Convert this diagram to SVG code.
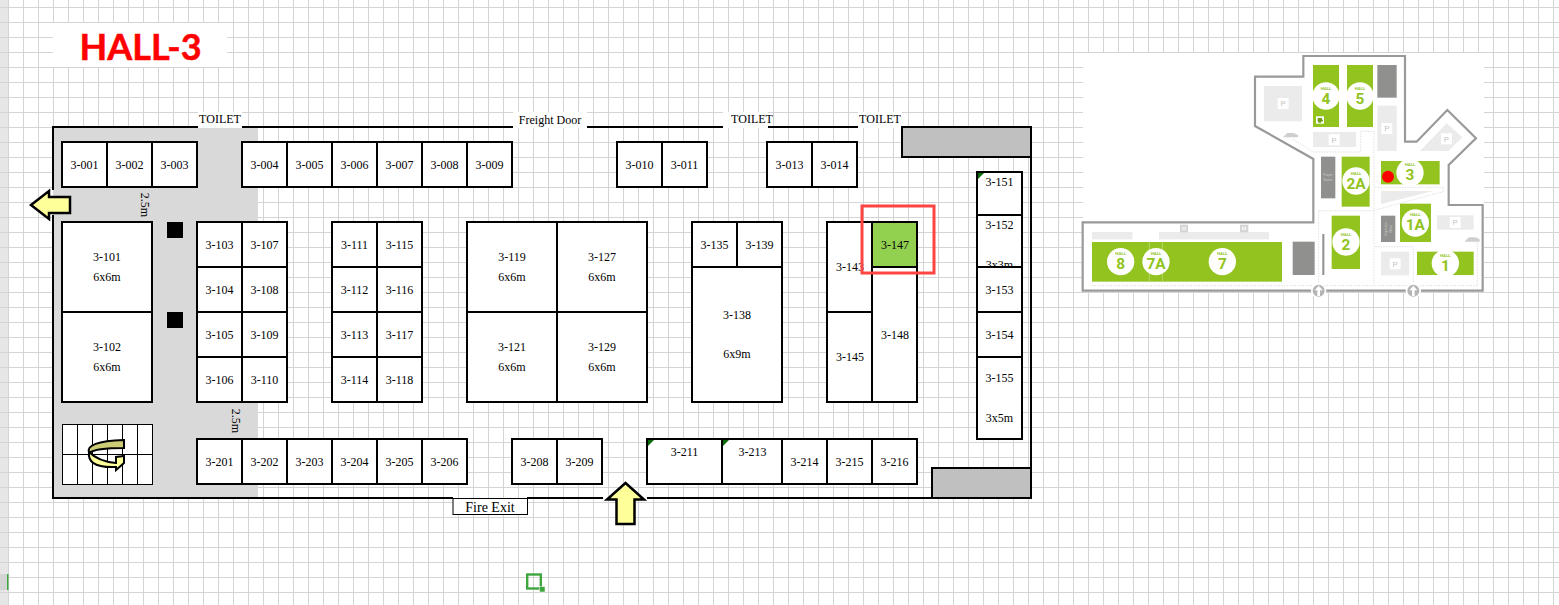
<svg xmlns="http://www.w3.org/2000/svg" width="1559" height="605" viewBox="0 0 1559 605">
<style>
text{font-family:"Liberation Serif","Times New Roman",serif;font-size:12px;fill:#000;text-anchor:middle}
.b{fill:#fff;stroke:#000;stroke-width:2}
.w{fill:none;stroke:#000;stroke-width:2}
.t{fill:#0a6b0a}
.m text{font-family:"Roboto","Liberation Sans",sans-serif;font-weight:700;fill:#92c31e}
.m .h{font-size:13px}
.m .n{font-size:46px}
.m .p{font-size:24px;fill:#c4c4c4;font-weight:400}
.m .o{font-size:10px;fill:#c9c9c9;font-weight:400}
.gn{fill:#92c31e}.dk{fill:#90918e}.lt{fill:#ebebeb}.wc{fill:#fff}
.ds{fill:none;stroke:#d6d6d6;stroke-width:2.5;stroke-dasharray:4 4}
</style>
<defs>
<pattern id="grid" patternUnits="userSpaceOnUse" x="8" y="7" width="15" height="15"><path d="M0 .5H15M.5 0V15" stroke="#d4d4d4" fill="none"/></pattern>
<pattern id="hdr" patternUnits="userSpaceOnUse" x="0" y="7" width="8" height="15"><path d="M0 .5H8" stroke="#d4d4d4" fill="none"/></pattern>
<clipPath id="c152"><rect x="977" y="215" width="45" height="52"/></clipPath>
</defs>
<rect width="1559" height="605" fill="#fff"/>
<rect width="1559" height="605" fill="url(#grid)"/>
<rect width="8" height="605" fill="#e6e6e6"/>
<rect width="8" height="605" fill="url(#hdr)"/>
<rect x="0" y="574" width="7" height="16" fill="#d4d4d4"/>
<rect x="7" y="574" width="1.5" height="16" fill="#3fa63f"/>
<rect x="527.200" y="574.500" width="13.600" height="14" fill="none" stroke="#3fa63f" stroke-width="2.400"/>
<rect x="539.500" y="586.500" width="5.500" height="5.500" fill="#3fa63f" stroke="#fff" stroke-width=".5"/>

<g id="title"><rect x="53" y="23" width="174" height="44" fill="#fff"/>
<text x="140.500" y="60" style="font-family:Lato,'Liberation Sans',sans-serif;font-size:36px;font-weight:700;fill:#f00" stroke="#f00" stroke-width=".5">HALL-3</text></g>

<g id="hall">
<rect x="53" y="127" width="205" height="371" fill="#d9d9d9"/>
<rect x="198" y="112" width="44" height="16" fill="#fff"/>
<rect x="513" y="112" width="74" height="16" fill="#fff"/>
<rect x="723" y="112" width="45" height="16" fill="#fff"/>
<rect x="858" y="112" width="44" height="16" fill="#fff"/>
<rect x="902" y="127" width="129" height="30" fill="#c0c0c0" stroke="#000" stroke-width="2"/>
<rect x="932" y="468" width="99" height="30" fill="#c0c0c0" stroke="#000" stroke-width="2"/>
<path class="w" d="M53 190V127H198M242 127H513M587 127H723M768 127H858M902 127H1031V498H647M603 498H527M453 498H53V215"/>
<text x="220" y="123">TOILET</text>
<text x="550" y="124">Freight Door</text>
<text x="752" y="123">TOILET</text>
<text x="880" y="123">TOILET</text>
<text transform="translate(141 205) rotate(90)">2.5m</text>
<text transform="translate(232 421) rotate(90)">2.5m</text>
<rect x="167" y="222" width="16" height="16" fill="#000"/>
<rect x="167" y="312" width="16" height="16" fill="#000"/>
</g>

<g id="fire-exit"><rect x="453" y="498.500" width="74.500" height="16" fill="#fff" stroke="#000"/><text x="490" y="512" style="font-size:14px">Fire Exit</text></g>
<g id="arrow-left"><path d="M31 205L49 191V197H70V213H49V219Z" fill="#ffff99" stroke="#000" stroke-width="2.500"/></g>
<g id="arrow-up"><path d="M625.500 483L644 499.500H634.500V524H616.500V499.500H607Z" fill="#ffff99" stroke="#000" stroke-width="2.500"/></g>
<g id="stairs">
<rect x="62.500" y="424.500" width="90" height="60" fill="#fff" stroke="#000"/>
<path d="M77.500 424V484M92.500 424V484M107.500 424V484M122.500 424V484M137.500 424V484M62 454.500H152" stroke="#000" fill="none"/>
<path d="M124 456L116 457V463C104 462 95 458 89 452C88 460 92 468 116 467V470L124 463Z" fill="#ffff99" stroke="#000" stroke-width="2"/>
<path d="M124 440V448C105 448 94 449 89 453C86 445 98 441 124 440Z" fill="#cccc77" stroke="#000" stroke-width="2"/>
</g>

<g id="b3-001"><rect class="b" x="62" y="142" width="45" height="45"/><text x="84.500" y="169">3-001</text></g>
<g id="b3-002"><rect class="b" x="107" y="142" width="45" height="45"/><text x="129.500" y="169">3-002</text></g>
<g id="b3-003"><rect class="b" x="152" y="142" width="45" height="45"/><text x="174.500" y="169">3-003</text></g>
<g id="b3-004"><rect class="b" x="242" y="142" width="45" height="45"/><text x="264.500" y="169">3-004</text></g>
<g id="b3-005"><rect class="b" x="287" y="142" width="45" height="45"/><text x="309.500" y="169">3-005</text></g>
<g id="b3-006"><rect class="b" x="332" y="142" width="45" height="45"/><text x="354.500" y="169">3-006</text></g>
<g id="b3-007"><rect class="b" x="377" y="142" width="45" height="45"/><text x="399.500" y="169">3-007</text></g>
<g id="b3-008"><rect class="b" x="422" y="142" width="45" height="45"/><text x="444.500" y="169">3-008</text></g>
<g id="b3-009"><rect class="b" x="467" y="142" width="45" height="45"/><text x="489.500" y="169">3-009</text></g>
<g id="b3-010"><rect class="b" x="617" y="142" width="45" height="45"/><text x="639.500" y="169">3-010</text></g>
<g id="b3-011"><rect class="b" x="662" y="142" width="45" height="45"/><text x="684.500" y="169">3-011</text></g>
<g id="b3-013"><rect class="b" x="767" y="142" width="45" height="45"/><text x="789.500" y="169">3-013</text></g>
<g id="b3-014"><rect class="b" x="812" y="142" width="45" height="45"/><text x="834.500" y="169">3-014</text></g>

<g id="b3-101"><rect class="b" x="62" y="222" width="90" height="90"/><text x="107" y="261">3-101</text><text x="107" y="281">6x6m</text></g>
<g id="b3-102"><rect class="b" x="62" y="312" width="90" height="90"/><text x="107" y="351">3-102</text><text x="107" y="371">6x6m</text></g>

<g id="b3-103"><rect class="b" x="197" y="222" width="45" height="45"/><text x="219.500" y="249">3-103</text></g>
<g id="b3-104"><rect class="b" x="197" y="267" width="45" height="45"/><text x="219.500" y="294">3-104</text></g>
<g id="b3-105"><rect class="b" x="197" y="312" width="45" height="45"/><text x="219.500" y="339">3-105</text></g>
<g id="b3-106"><rect class="b" x="197" y="357" width="45" height="45"/><text x="219.500" y="384">3-106</text></g>
<g id="b3-107"><rect class="b" x="242" y="222" width="45" height="45"/><text x="264.500" y="249">3-107</text></g>
<g id="b3-108"><rect class="b" x="242" y="267" width="45" height="45"/><text x="264.500" y="294">3-108</text></g>
<g id="b3-109"><rect class="b" x="242" y="312" width="45" height="45"/><text x="264.500" y="339">3-109</text></g>
<g id="b3-110"><rect class="b" x="242" y="357" width="45" height="45"/><text x="264.500" y="384">3-110</text></g>

<g id="b3-111"><rect class="b" x="332" y="222" width="45" height="45"/><text x="354.500" y="249">3-111</text></g>
<g id="b3-112"><rect class="b" x="332" y="267" width="45" height="45"/><text x="354.500" y="294">3-112</text></g>
<g id="b3-113"><rect class="b" x="332" y="312" width="45" height="45"/><text x="354.500" y="339">3-113</text></g>
<g id="b3-114"><rect class="b" x="332" y="357" width="45" height="45"/><text x="354.500" y="384">3-114</text></g>
<g id="b3-115"><rect class="b" x="377" y="222" width="45" height="45"/><text x="399.500" y="249">3-115</text></g>
<g id="b3-116"><rect class="b" x="377" y="267" width="45" height="45"/><text x="399.500" y="294">3-116</text></g>
<g id="b3-117"><rect class="b" x="377" y="312" width="45" height="45"/><text x="399.500" y="339">3-117</text></g>
<g id="b3-118"><rect class="b" x="377" y="357" width="45" height="45"/><text x="399.500" y="384">3-118</text></g>

<g id="b3-119"><rect class="b" x="467" y="222" width="90" height="90"/><text x="512" y="261">3-119</text><text x="512" y="281">6x6m</text></g>
<g id="b3-121"><rect class="b" x="467" y="312" width="90" height="90"/><text x="512" y="351">3-121</text><text x="512" y="371">6x6m</text></g>
<g id="b3-127"><rect class="b" x="557" y="222" width="90" height="90"/><text x="602" y="261">3-127</text><text x="602" y="281">6x6m</text></g>
<g id="b3-129"><rect class="b" x="557" y="312" width="90" height="90"/><text x="602" y="351">3-129</text><text x="602" y="371">6x6m</text></g>

<g id="b3-135"><rect class="b" x="692" y="222" width="45" height="45"/><text x="714.500" y="249">3-135</text></g>
<g id="b3-139"><rect class="b" x="737" y="222" width="45" height="45"/><text x="759.500" y="249">3-139</text></g>
<g id="b3-138"><rect class="b" x="692" y="267" width="90" height="135"/><text x="737" y="319">3-138</text><text x="737" y="358">6x9m</text></g>

<g id="b3-143"><rect class="b" x="827" y="222" width="45" height="90"/><text x="850" y="271">3-143</text></g>
<g id="b3-145"><rect class="b" x="827" y="312" width="45" height="90"/><text x="850" y="361">3-145</text></g>
<g id="b3-147"><rect x="872" y="222" width="45" height="45" fill="#92d050" stroke="#000" stroke-width="2"/><text x="895" y="249">3-147</text></g>
<g id="b3-148"><rect class="b" x="872" y="267" width="45" height="135"/><text x="895" y="339">3-148</text></g>

<g id="b3-151"><rect class="b" x="977" y="172" width="45" height="43"/><path class="t" d="M978 173h6l-6 6z"/><text x="999.500" y="186">3-151</text></g>
<g id="b3-152"><rect class="b" x="977" y="215" width="45" height="52"/><text x="999.500" y="229">3-152</text><text x="999.500" y="269" clip-path="url(#c152)">3x3m</text></g>
<g id="b3-153"><rect class="b" x="977" y="267" width="45" height="45"/><text x="999.500" y="294">3-153</text></g>
<g id="b3-154"><rect class="b" x="977" y="312" width="45" height="45"/><text x="999.500" y="339">3-154</text></g>
<g id="b3-155"><rect class="b" x="977" y="357" width="45" height="82"/><text x="999.500" y="382">3-155</text><text x="999.500" y="422">3x5m</text></g>

<g id="b3-201"><rect class="b" x="197" y="439" width="45" height="45"/><text x="219.500" y="466">3-201</text></g>
<g id="b3-202"><rect class="b" x="242" y="439" width="45" height="45"/><text x="264.500" y="466">3-202</text></g>
<g id="b3-203"><rect class="b" x="287" y="439" width="45" height="45"/><text x="309.500" y="466">3-203</text></g>
<g id="b3-204"><rect class="b" x="332" y="439" width="45" height="45"/><text x="354.500" y="466">3-204</text></g>
<g id="b3-205"><rect class="b" x="377" y="439" width="45" height="45"/><text x="399.500" y="466">3-205</text></g>
<g id="b3-206"><rect class="b" x="422" y="439" width="45" height="45"/><text x="444.500" y="466">3-206</text></g>
<g id="b3-208"><rect class="b" x="512" y="439" width="45" height="45"/><text x="534.500" y="466">3-208</text></g>
<g id="b3-209"><rect class="b" x="557" y="439" width="45" height="45"/><text x="579.500" y="466">3-209</text></g>
<g id="b3-211"><rect class="b" x="647" y="439" width="75" height="45"/><path class="t" d="M648 440h6l-6 6z"/><text x="684.500" y="456">3-211</text></g>
<g id="b3-213"><rect class="b" x="722" y="439" width="60" height="45"/><path class="t" d="M723 440h6l-6 6z"/><text x="752.500" y="456">3-213</text></g>
<g id="b3-214"><rect class="b" x="782" y="439" width="45" height="45"/><text x="804.500" y="466">3-214</text></g>
<g id="b3-215"><rect class="b" x="827" y="439" width="45" height="45"/><text x="849.500" y="466">3-215</text></g>
<g id="b3-216"><rect class="b" x="872" y="439" width="45" height="45"/><text x="894.500" y="466">3-216</text></g>

<g id="highlight"><rect x="862" y="206" width="72" height="67" fill="none" stroke="#f44" stroke-width="3"/></g>

<g id="location-map" class="m" transform="translate(1080 50) scale(.33333)">
<rect x="9" y="9" width="1203" height="717" fill="#fff"/>
<path d="M8 517H700V327L525 228V80H670V18H975V275H1010L1102 180L1188 265L1106 345V465H1208V722H8Z" fill="#fff" stroke="#999" stroke-width="6.500"/>
<path class="ds" d="M640 268L700 306H842V244H882V705M36 707H1192V560M716 705V482H882M886 412H1090V425L886 480M886 590H1000V705"/>
<rect class="lt" x="552" y="108" width="114" height="106"/><rect class="lt" x="699" y="246" width="129" height="45"/><rect class="lt" x="892" y="167" width="58" height="136"/>
<path class="lt" d="M1020 303L1100 220L1147 262L1105 303Z"/><path class="lt" d="M903 423H1060L903 462Z"/>
<rect class="lt" x="1071" y="496" width="110" height="43"/><rect class="lt" x="903" y="605" width="85" height="71"/>
<rect class="lt" x="36" y="546" width="121" height="22"/><rect class="lt" x="237" y="546" width="330" height="22"/>
<rect x="300" y="524" width="24" height="23" fill="#d4d4d4"/><rect x="480" y="524" width="25" height="23" fill="#d4d4d4"/>
<path d="M307 530v11M312 530v11M317 530v11M487 530v11M492 530v11M497 530v11" stroke="#fff" stroke-width="2.500"/>
<rect class="wc" x="593" y="144" width="33" height="33"/><rect class="wc" x="746" y="253" width="33" height="33"/><rect class="wc" x="904" y="219" width="33" height="33"/><rect class="wc" x="1083" y="250" width="33" height="33"/><rect class="wc" x="1109" y="501" width="33" height="33"/><rect class="wc" x="929" y="625" width="33" height="33"/>
<text class="p" x="609" y="169">P</text><text class="p" x="762" y="278">P</text><text class="p" x="920" y="244">P</text><text class="p" x="1099" y="275">P</text><text class="p" x="1125" y="526">P</text><text class="p" x="945" y="650">P</text>
<rect class="dk" x="892" y="45" width="58" height="98"/><rect class="dk" x="723" y="320" width="43" height="125"/><rect class="dk" x="903" y="497" width="43" height="79"/><rect class="dk" x="638" y="575" width="66" height="100"/><rect class="dk" x="727" y="552" width="6" height="123"/>
<text class="o" x="744" y="378">Prayer</text><text class="o" x="744" y="392">Room</text>
<text class="o" transform="translate(921 537) rotate(-90)">Organizer</text><text class="o" transform="translate(935 537) rotate(-90)">Office</text>
<rect class="gn" x="699" y="45" width="78" height="186"/><rect class="gn" x="801" y="45" width="78" height="186"/><rect class="gn" x="785" y="320" width="84" height="150"/><rect class="gn" x="903" y="333" width="176" height="70"/><rect class="gn" x="960" y="461" width="93" height="115"/><rect class="gn" x="755" y="497" width="85" height="160"/><rect class="gn" x="1011" y="605" width="170" height="70"/><rect class="gn" x="36" y="576" width="570" height="119"/>
<path d="M208 576V695M247 576V695" stroke="#c9e08d" stroke-width="2"/>
<rect class="wc" x="708" y="199" width="24" height="22"/><path d="M713 204H726V209H729V214H725L723 218H716L713 214Z" fill="#6f9d16"/>
<circle class="wc" cx="738" cy="138" r="41"/><circle class="wc" cx="840" cy="138" r="41"/><circle class="wc" cx="828" cy="393" r="41"/><circle class="wc" cx="990" cy="368" r="41"/><circle class="wc" cx="1006" cy="519" r="41"/><circle class="wc" cx="798" cy="576" r="41"/><circle class="wc" cx="1096" cy="640" r="41"/><circle class="wc" cx="122" cy="635" r="41"/><circle class="wc" cx="228" cy="635" r="41"/><circle class="wc" cx="427" cy="635" r="41"/>
<text class="h" x="738" y="119">HALL</text><text class="n" x="738" y="161">4</text>
<text class="h" x="840" y="119">HALL</text><text class="n" x="840" y="161">5</text>
<text class="h" x="828" y="375">HALL</text><text class="n" x="828" y="417">2A</text>
<text class="h" x="990" y="348">HALL</text><text class="n" x="990" y="389">3</text>
<text class="h" x="1006" y="499">HALL</text><text class="n" x="1006" y="541">1A</text>
<text class="h" x="798" y="557">HALL</text><text class="n" x="798" y="599">2</text>
<text class="h" x="1096" y="620">HALL</text><text class="n" x="1096" y="663">1</text>
<text class="h" x="122" y="616">HALL</text><text class="n" x="122" y="657">8</text>
<text class="h" x="228" y="616">HALL</text><text class="n" x="228" y="657">7A</text>
<text class="h" x="427" y="616">HALL</text><text class="n" x="427" y="657">7</text>
<circle cx="924" cy="380" r="18" fill="#f00"/>
<path d="M610 260L622 249H640L654 255V262H610ZM1155 573L1167 562H1185L1199 568V575H1155Z" fill="#cfcfcf"/>
<circle cx="716" cy="722" r="23" fill="#fff"/><circle cx="1000" cy="722" r="23" fill="#fff"/>
<circle cx="716" cy="722" r="18" fill="#b5b5b5"/><circle cx="1000" cy="722" r="18" fill="#b5b5b5"/>
<path d="M716 707L728 721H720V738H712V721H704ZM1000 707L1012 721H1004V738H996V721H988Z" fill="#fff"/>
</g>
</svg>
